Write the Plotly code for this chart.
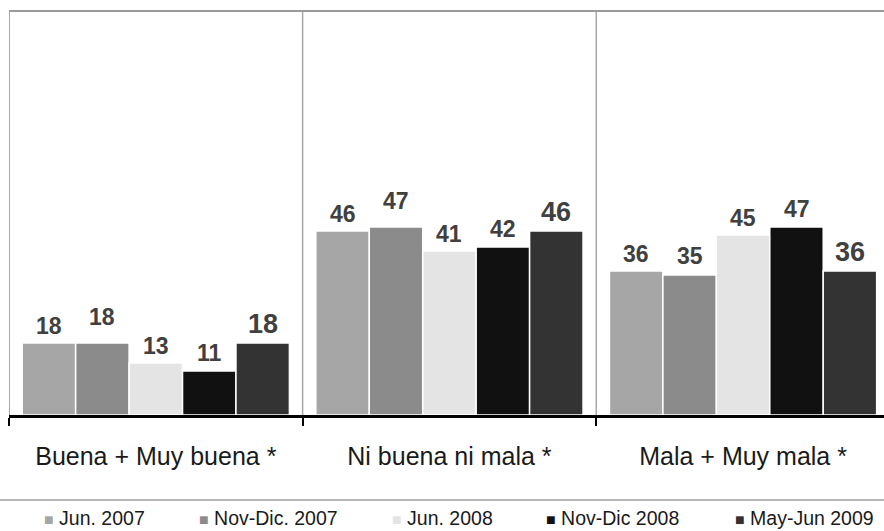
import plotly.graph_objects as go

categories = ["Buena + Muy buena *", "Ni buena ni mala *", "Mala + Muy mala *"]
series_names = ["Jun. 2007", "Nov-Dic. 2007", "Jun. 2008", "Nov-Dic 2008", "May-Jun 2009"]
jun_2007 = [18, 46, 36]
nov_dic_2007 = [18, 47, 35]
jun_2008 = [13, 41, 45]
nov_dic_2008 = [11, 42, 47]
may_jun_2009 = [18, 46, 36]
series_values = [jun_2007, nov_dic_2007, jun_2008, nov_dic_2008, may_jun_2009]

colors = ["#a6a6a6", "#8b8b8b", "#e4e4e4", "#111111", "#333333"]
label_sizes = [23, 23, 23, 23, 27]
label_shift = [[17, 17, 17], [26, 26, 19], [17, 17, 17], [18, 18, 18], [19, 19, 19]]

W, H = 884, 531
ML, MR, MT, MB = 9, 0, 11, 116
PW = W - ML - MR
PH = H - MT - MB
BARGAP = 0.09
FONT = "Liberation Sans, Arial, sans-serif"

xs = list(range(len(categories)))
fig = go.Figure()
for name, vals, col in zip(series_names, series_values, colors):
    fig.add_trace(go.Bar(
        x=xs, y=vals, name=name,
        marker=dict(color=col, line=dict(color="white", width=1.5)),
        showlegend=False, hoverinfo="y",
    ))

# data labels above bars, aligned with grouped bar centres
n = len(series_names)
bw = (1 - BARGAP) / n
annotations = []
for j, vals in enumerate(series_values):
    for i, v in enumerate(vals):
        annotations.append(dict(
            x=i + (j - (n - 1) / 2) * bw, y=v, xref="x", yref="y",
            text=f"<b>{v}</b>", showarrow=False,
            yanchor="middle", yshift=label_shift[j][i],
            font=dict(family=FONT, size=label_sizes[j], color="#404040"),
        ))

# legend drawn as text items
legend_px = [42, 197, 390, 544, 733]
for name, col, px in zip(series_names, colors, legend_px):
    annotations.append(dict(
        x=(px - ML) / PW, y=(MT + PH - 518) / PH, xref="paper", yref="paper",
        xanchor="left", yanchor="middle", showarrow=False,
        text=f'<span style="color:{col};font-size:16px">■</span> {name}',
        font=dict(family=FONT, size=19.5, color="#1a1a1a"),
    ))

shapes = []
# top border
shapes.append(dict(type="line", xref="paper", yref="paper", x0=0, x1=1, y0=1, y1=1,
                   line=dict(color="#9a9a9a", width=2)))
# category separators and left border
for b in [-0.5, 0.5, 1.5]:
    shapes.append(dict(type="line", xref="x", yref="paper", x0=b, x1=b, y0=0, y1=1,
                       line=dict(color="#a8a8a8", width=1.5 if b > 0 else 2), layer="below"))
# legend separator
shapes.append(dict(type="line", xref="paper", yref="paper", x0=-ML / PW, x1=1,
                   y0=(MT + PH - 500) / PH, y1=(MT + PH - 500) / PH,
                   line=dict(color="#a0a0a0", width=1.5)))

fig.update_layout(
    width=W, height=H,
    margin=dict(l=ML, r=MR, t=MT, b=MB),
    paper_bgcolor="white", plot_bgcolor="white",
    barmode="group", bargap=BARGAP, bargroupgap=0,
    font=dict(family=FONT),
    annotations=annotations, shapes=shapes,
    xaxis=dict(
        range=[-0.5, 2.48], tickvals=xs, ticktext=categories,
        ticks="", showgrid=False, zeroline=False,
        showline=True, linecolor="black", linewidth=3,
        tickfont=dict(family=FONT, size=25, color="#1a1a1a"),
        ticklabelstandoff=17,
        minor=dict(tick0=-0.5, dtick=1, ticks="outside", ticklen=8,
                   tickwidth=2, tickcolor="black", showgrid=False),
    ),
    yaxis=dict(range=[0, 101], visible=False, showgrid=False, zeroline=False),
)

fig.write_html("out.html", config={"displayModeBar": False},
               post_script="document.body.style.margin='0px';")
